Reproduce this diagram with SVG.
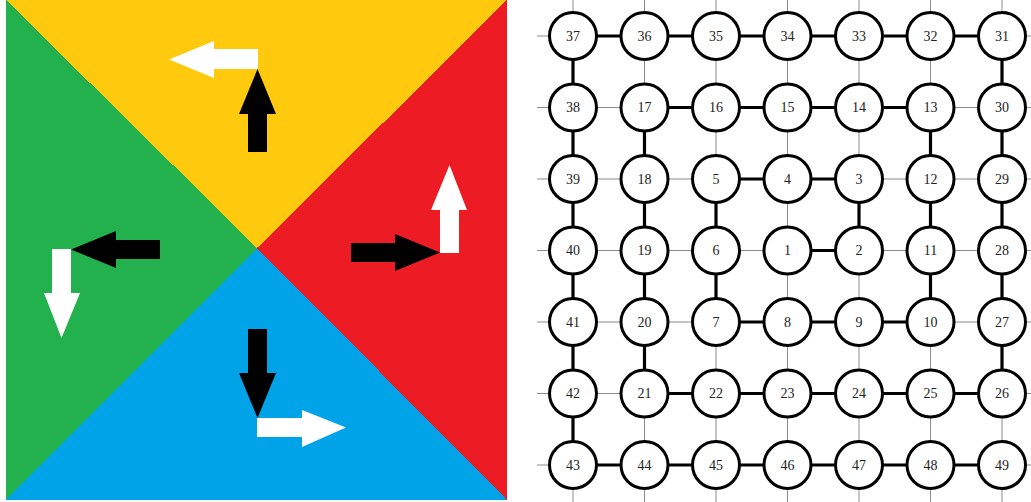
<svg xmlns="http://www.w3.org/2000/svg" width="1031" height="502" viewBox="0 0 1031 502">
<style>
.grid{stroke:#8c8c8c;stroke-width:1;fill:none}
.edge{stroke:#000;stroke-width:3.2;fill:none}
.node circle{fill:#fff;stroke:#000;stroke-width:3}
.node text{font-family:"Liberation Serif","DejaVu Serif",serif;font-size:14px;fill:#222;text-anchor:middle;dominant-baseline:central}
.blk{fill:#000}
.wht{fill:#fff}
</style>
<rect width="1031" height="502" fill="#fff"/>
<g id="quadrants" shape-rendering="crispEdges">
<polygon points="6,0 507,0 257,248" fill="#FFC90E"/>
<polygon points="507,0 507,500 257,248" fill="#ED1C24"/>
<polygon points="6,500 507,500 257,248" fill="#00A2E8"/>
<polygon points="6,0 6,500 257,248" fill="#22B14C"/>
</g>
<g id="arrows">
<polygon class="blk" points="248,152 248,114 239,114 257.5,69 276,114 267,114 267,152"/>
<polygon class="wht" points="258,49 214,49 214,41 169,59.5 214,78 214,69 258,69"/>
<polygon class="blk" points="351,243 395,243 395,234 440,252.5 395,271 395,262 351,262"/>
<polygon class="wht" points="440,253 440,210 431,210 449.5,165 467,210 459,210 459,253"/>
<polygon class="blk" points="160,240 116,240 116,231 71,249.5 116,268 116,259 160,259"/>
<polygon class="wht" points="52,249 71,249 71,293 80,293 61.5,338 44,293 52,293"/>
<polygon class="blk" points="248,329 267,329 267,373 276,373 257.5,418 239,373 248,373"/>
<polygon class="wht" points="257,418 302,418 302,410 346,427.5 302,447 302,437 257,437"/>
</g>
<g id="connectors">
<g id="grid-lines" class="grid">
<line x1="573" y1="0" x2="573" y2="502"/>
<line x1="644.5" y1="0" x2="644.5" y2="502"/>
<line x1="716" y1="0" x2="716" y2="502"/>
<line x1="787.5" y1="0" x2="787.5" y2="502"/>
<line x1="859" y1="0" x2="859" y2="502"/>
<line x1="930.5" y1="0" x2="930.5" y2="502"/>
<line x1="1002" y1="0" x2="1002" y2="502"/>
<line x1="537" y1="36" x2="1031" y2="36"/>
<line x1="537" y1="107.5" x2="1031" y2="107.5"/>
<line x1="537" y1="179" x2="1031" y2="179"/>
<line x1="537" y1="250.5" x2="1031" y2="250.5"/>
<line x1="537" y1="322" x2="1031" y2="322"/>
<line x1="537" y1="393.5" x2="1031" y2="393.5"/>
<line x1="537" y1="465" x2="1031" y2="465"/>
</g>
<g id="path-edges" class="edge">
<line x1="787.5" y1="250.5" x2="859" y2="250.5"/>
<line x1="859" y1="250.5" x2="859" y2="179"/>
<line x1="859" y1="179" x2="716" y2="179"/>
<line x1="716" y1="179" x2="716" y2="322"/>
<line x1="716" y1="322" x2="930.5" y2="322"/>
<line x1="930.5" y1="322" x2="930.5" y2="107.5"/>
<line x1="930.5" y1="107.5" x2="644.5" y2="107.5"/>
<line x1="644.5" y1="107.5" x2="644.5" y2="393.5"/>
<line x1="644.5" y1="393.5" x2="1002" y2="393.5"/>
<line x1="1002" y1="393.5" x2="1002" y2="36"/>
<line x1="1002" y1="36" x2="573" y2="36"/>
<line x1="573" y1="36" x2="573" y2="465"/>
<line x1="573" y1="465" x2="1002" y2="465"/>
</g>
</g>
<g id="nodes">
<g id="n37" class="node"><circle cx="573" cy="36" r="23.5"/><text x="573" y="36">37</text></g>
<g id="n36" class="node"><circle cx="644.5" cy="36" r="23.5"/><text x="644.5" y="36">36</text></g>
<g id="n35" class="node"><circle cx="716" cy="36" r="23.5"/><text x="716" y="36">35</text></g>
<g id="n34" class="node"><circle cx="787.5" cy="36" r="23.5"/><text x="787.5" y="36">34</text></g>
<g id="n33" class="node"><circle cx="859" cy="36" r="23.5"/><text x="859" y="36">33</text></g>
<g id="n32" class="node"><circle cx="930.5" cy="36" r="23.5"/><text x="930.5" y="36">32</text></g>
<g id="n31" class="node"><circle cx="1002" cy="36" r="23.5"/><text x="1002" y="36">31</text></g>
<g id="n38" class="node"><circle cx="573" cy="107.5" r="23.5"/><text x="573" y="107.5">38</text></g>
<g id="n17" class="node"><circle cx="644.5" cy="107.5" r="23.5"/><text x="644.5" y="107.5">17</text></g>
<g id="n16" class="node"><circle cx="716" cy="107.5" r="23.5"/><text x="716" y="107.5">16</text></g>
<g id="n15" class="node"><circle cx="787.5" cy="107.5" r="23.5"/><text x="787.5" y="107.5">15</text></g>
<g id="n14" class="node"><circle cx="859" cy="107.5" r="23.5"/><text x="859" y="107.5">14</text></g>
<g id="n13" class="node"><circle cx="930.5" cy="107.5" r="23.5"/><text x="930.5" y="107.5">13</text></g>
<g id="n30" class="node"><circle cx="1002" cy="107.5" r="23.5"/><text x="1002" y="107.5">30</text></g>
<g id="n39" class="node"><circle cx="573" cy="179" r="23.5"/><text x="573" y="179">39</text></g>
<g id="n18" class="node"><circle cx="644.5" cy="179" r="23.5"/><text x="644.5" y="179">18</text></g>
<g id="n5" class="node"><circle cx="716" cy="179" r="23.5"/><text x="716" y="179">5</text></g>
<g id="n4" class="node"><circle cx="787.5" cy="179" r="23.5"/><text x="787.5" y="179">4</text></g>
<g id="n3" class="node"><circle cx="859" cy="179" r="23.5"/><text x="859" y="179">3</text></g>
<g id="n12" class="node"><circle cx="930.5" cy="179" r="23.5"/><text x="930.5" y="179">12</text></g>
<g id="n29" class="node"><circle cx="1002" cy="179" r="23.5"/><text x="1002" y="179">29</text></g>
<g id="n40" class="node"><circle cx="573" cy="250.5" r="23.5"/><text x="573" y="250.5">40</text></g>
<g id="n19" class="node"><circle cx="644.5" cy="250.5" r="23.5"/><text x="644.5" y="250.5">19</text></g>
<g id="n6" class="node"><circle cx="716" cy="250.5" r="23.5"/><text x="716" y="250.5">6</text></g>
<g id="n1" class="node"><circle cx="787.5" cy="250.5" r="23.5"/><text x="787.5" y="250.5">1</text></g>
<g id="n2" class="node"><circle cx="859" cy="250.5" r="23.5"/><text x="859" y="250.5">2</text></g>
<g id="n11" class="node"><circle cx="930.5" cy="250.5" r="23.5"/><text x="930.5" y="250.5">11</text></g>
<g id="n28" class="node"><circle cx="1002" cy="250.5" r="23.5"/><text x="1002" y="250.5">28</text></g>
<g id="n41" class="node"><circle cx="573" cy="322" r="23.5"/><text x="573" y="322">41</text></g>
<g id="n20" class="node"><circle cx="644.5" cy="322" r="23.5"/><text x="644.5" y="322">20</text></g>
<g id="n7" class="node"><circle cx="716" cy="322" r="23.5"/><text x="716" y="322">7</text></g>
<g id="n8" class="node"><circle cx="787.5" cy="322" r="23.5"/><text x="787.5" y="322">8</text></g>
<g id="n9" class="node"><circle cx="859" cy="322" r="23.5"/><text x="859" y="322">9</text></g>
<g id="n10" class="node"><circle cx="930.5" cy="322" r="23.5"/><text x="930.5" y="322">10</text></g>
<g id="n27" class="node"><circle cx="1002" cy="322" r="23.5"/><text x="1002" y="322">27</text></g>
<g id="n42" class="node"><circle cx="573" cy="393.5" r="23.5"/><text x="573" y="393.5">42</text></g>
<g id="n21" class="node"><circle cx="644.5" cy="393.5" r="23.5"/><text x="644.5" y="393.5">21</text></g>
<g id="n22" class="node"><circle cx="716" cy="393.5" r="23.5"/><text x="716" y="393.5">22</text></g>
<g id="n23" class="node"><circle cx="787.5" cy="393.5" r="23.5"/><text x="787.5" y="393.5">23</text></g>
<g id="n24" class="node"><circle cx="859" cy="393.5" r="23.5"/><text x="859" y="393.5">24</text></g>
<g id="n25" class="node"><circle cx="930.5" cy="393.5" r="23.5"/><text x="930.5" y="393.5">25</text></g>
<g id="n26" class="node"><circle cx="1002" cy="393.5" r="23.5"/><text x="1002" y="393.5">26</text></g>
<g id="n43" class="node"><circle cx="573" cy="465" r="23.5"/><text x="573" y="465">43</text></g>
<g id="n44" class="node"><circle cx="644.5" cy="465" r="23.5"/><text x="644.5" y="465">44</text></g>
<g id="n45" class="node"><circle cx="716" cy="465" r="23.5"/><text x="716" y="465">45</text></g>
<g id="n46" class="node"><circle cx="787.5" cy="465" r="23.5"/><text x="787.5" y="465">46</text></g>
<g id="n47" class="node"><circle cx="859" cy="465" r="23.5"/><text x="859" y="465">47</text></g>
<g id="n48" class="node"><circle cx="930.5" cy="465" r="23.5"/><text x="930.5" y="465">48</text></g>
<g id="n49" class="node"><circle cx="1002" cy="465" r="23.5"/><text x="1002" y="465">49</text></g>
</g>
</svg>
